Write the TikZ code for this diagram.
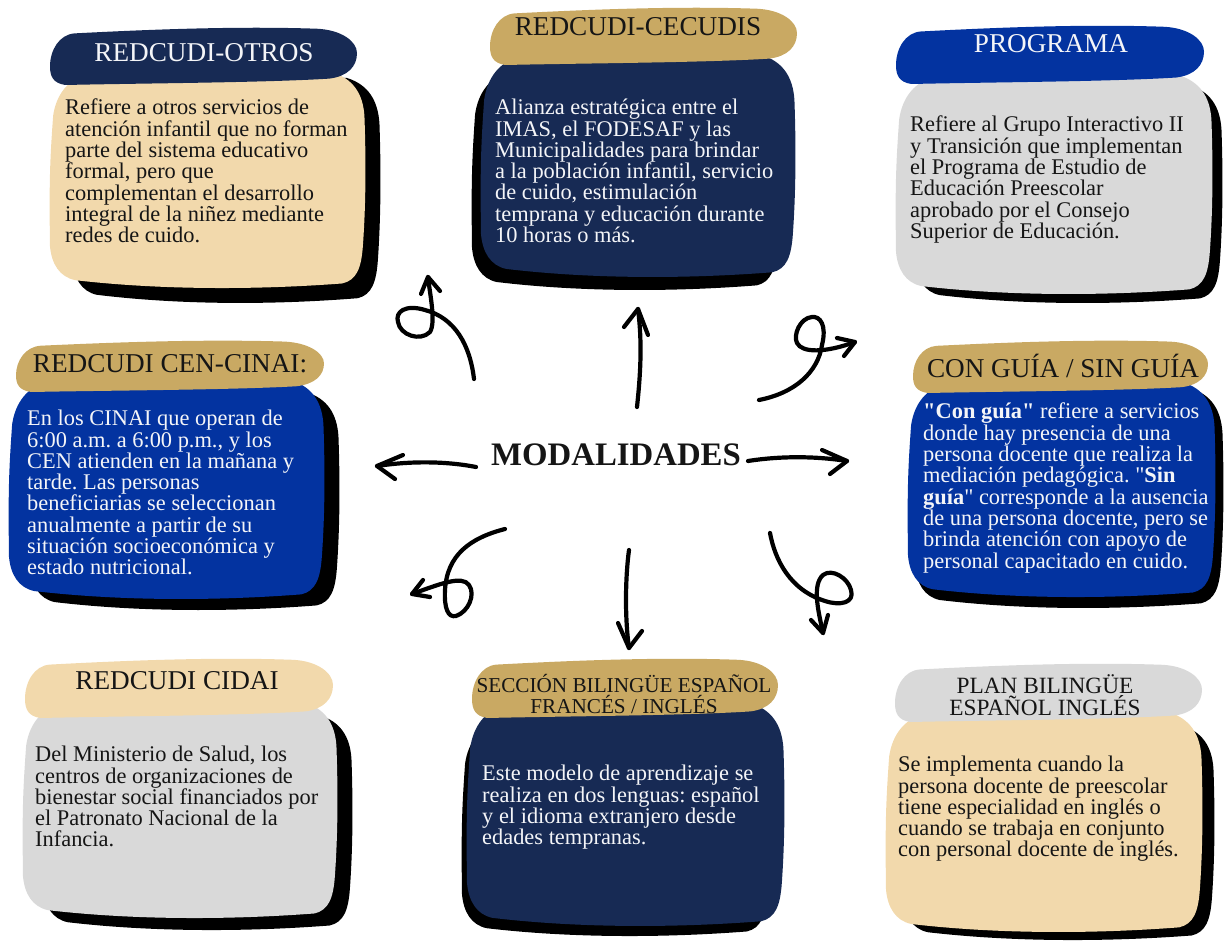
\documentclass[tikz,border=0pt]{standalone}
\usepackage{fontspec}
\setmainfont{Liberation Serif}[Ligatures=TeXOff]
\definecolor{navyc}{HTML}{172A54}
\definecolor{tanc}{HTML}{C9A963}
\definecolor{beigec}{HTML}{F2D9AC}
\definecolor{grayc}{HTML}{D9D9D9}
\definecolor{bluec}{HTML}{0333A0}
\definecolor{inkc}{HTML}{151515}
\definecolor{paperc}{HTML}{F4F5F8}
\tikzset{
  bodytxt/.style={anchor=north west,inner sep=0pt,align=left,font=\fontsize{22.4}{21.3}\selectfont\frenchspacing},
  headtxt/.style={anchor=center,inner sep=0pt,align=center,font=\fontsize{27.2}{24}\selectfont},
  smallhead/.style={anchor=center,inner sep=0pt,align=center,font=\fontsize{21.2}{21}\selectfont},
  planhead/.style={anchor=center,inner sep=0pt,align=center,font=\fontsize{23.3}{22}\selectfont},
  curve/.style={line width=4.2pt,line cap=round,line join=round,black},
}
\newcommand\pillshape[5]{%
  \pgfmathsetmacro\pw{#4-#2}\pgfmathsetmacro\ph{#5-#3}%
  \begin{scope}[shift={(#2,#3)},x=\pw pt,y=-\ph pt]
    \fill[#1] (.08,.11) .. controls (.3,.05) and (.6,-.02) .. (.87,.03)
      .. controls (.95,.05) and (1,.25) .. (1,.45)
      .. controls (1,.68) and (.97,.85) .. (.91,.89)
      .. controls (.7,.96) and (.3,.97) .. (.05,1)
      .. controls (.01,.97) and (0,.85) .. (0,.68)
      .. controls (0,.4) and (.03,.13) .. (.08,.11) -- cycle;
  \end{scope}}
\newcommand\blobshape[5]{%
  \pgfmathsetmacro\pw{#4-#2}\pgfmathsetmacro\ph{#5-#3}%
  \begin{scope}[shift={(#2,#3)},x=\pw pt,y=-\ph pt]
    \fill[#1] (.12,.01) .. controls (.35,0) and (.65,0) .. (.89,.0)
      .. controls (.96,.03) and (.99,.1) .. (.995,.2)
      .. controls (1,.4) and (1,.6) .. (.99,.8)
      .. controls (.985,.9) and (.97,.955) .. (.925,.97)
      .. controls (.65,1.0) and (.35,1.0) .. (.08,.955)
      .. controls (.03,.94) and (.005,.88) .. (.0,.8)
      .. controls (-.003,.5) and (0,.4) .. (.01,.2)
      .. controls (.02,.1) and (.06,.03) .. (.12,.01) -- cycle;
  \end{scope}}
\begin{document}
\begin{tikzpicture}[x=1pt,y=-1pt]
\useasboundingbox (0,0) rectangle (1227,941);

% REDCUDI-OTROS
\blobshape{black}{72}{78}{381}{305}
\blobshape{beigec}{50}{72}{366}{290}
\pillshape{navyc}{50}{27}{357}{85}
\node[headtxt,text=paperc] (hotros) at (204,53) {REDCUDI-OTROS};
\node[bodytxt,text=inkc] (botros) at (65,99) {\rule{0pt}{14pt}Refiere a otros servicios de\\atención infantil que no forman\\parte del sistema educativo\\formal, pero que\\complementan el desarrollo\\integral de la niñez mediante\\redes de cuido.};

% REDCUDI-CECUDIS
\blobshape{black}{472}{70}{780}{292}
\blobshape{navyc}{481}{55}{796}{279}
\pillshape{tanc}{490}{7}{797}{65}
\node[headtxt,text=inkc] (hcecudis) at (638,27) {REDCUDI-CECUDIS};
\node[bodytxt,text=paperc] (bcecudis) at (495,99) {\rule{0pt}{14pt}Alianza estratégica entre el\\IMAS, el FODESAF y las\\Municipalidades para brindar\\a la población infantil, servicio\\de cuido, estimulación\\temprana y educación durante\\10 horas o más.};

% PROGRAMA
\blobshape{black}{915}{85}{1223}{305}
\blobshape{grayc}{896}{75}{1213}{296}
\pillshape{bluec}{896}{25}{1204}{84}
\node[headtxt,text=paperc] (hprograma) at (1051,44) {PROGRAMA};
\node[bodytxt,text=inkc] (bprograma) at (910,116) {\rule{0pt}{14pt}Refiere al Grupo Interactivo II\\y Transición que implementan\\el Programa de Estudio de\\Educación Preescolar\\aprobado por el Consejo\\Superior de Educación.};

% CEN-CINAI
\blobshape{black}{30}{392}{340}{612}
\blobshape{bluec}{9}{380}{325}{601}
\pillshape{tanc}{16}{340}{324}{392}
\node[headtxt,text=inkc] (hcinai) at (170,364) {REDCUDI CEN-CINAI:};
\node[bodytxt,text=paperc] (bcinai) at (27,410) {\rule{0pt}{14pt}En los CINAI que operan de\\6:00 a.m. a 6:00 p.m., y los\\CEN atienden en la mañana y\\tarde. Las personas\\beneficiarias se seleccionan\\anualmente a partir de su\\situación socioeconómica y\\estado nutricional.};

% CON GUIA
\blobshape{black}{915}{388}{1224}{610}
\blobshape{bluec}{908}{382}{1216}{599}
\pillshape{tanc}{913}{340}{1208}{393}
\node[headtxt,text=inkc] (hguia) at (1063,366) {CON GUÍA / SIN GUÍA};
\node[bodytxt,text=paperc] (bguia) at (923,403) {\rule{0pt}{14pt}\textbf{"Con guía"} refiere a servicios\\donde hay presencia de una\\persona docente que realiza la\\mediación pedagógica. "\textbf{Sin}\\\textbf{guía}" corresponde a la ausencia\\de una persona docente, pero se\\brinda atención con apoyo de\\personal capacitado en cuido.};

% CIDAI
\blobshape{black}{43}{715}{353}{932}
\blobshape{grayc}{23}{702}{338}{920}
\pillshape{beigec}{25}{658}{333}{718}
\node[headtxt,text=inkc] (hcidai) at (177,681) {REDCUDI CIDAI};
\node[bodytxt,text=inkc] (bcidai) at (35,746) {\rule{0pt}{14pt}Del Ministerio de Salud, los\\centros de organizaciones de\\bienestar social financiados por\\el Patronato Nacional de la\\Infancia.};

% SECCION
\blobshape{black}{462}{720}{770}{938}
\blobshape{navyc}{467}{703}{785}{928}
\pillshape{tanc}{472}{658}{778}{718}
\node[smallhead,text=inkc] (hseccion) at (624,694) {SECCIÓN BILINGÜE ESPAÑOL\\FRANCÉS / INGLÉS};
\node[bodytxt,text=paperc] (bseccion) at (482,765) {\rule{0pt}{14pt}Este modelo de aprendizaje se\\realiza en dos lenguas: español\\y el idioma extranjero desde\\edades tempranas.};

% PLAN
\blobshape{black}{903}{725}{1215}{942}
\blobshape{beigec}{886}{712}{1203}{934}
\pillshape{grayc}{895}{663}{1202}{722}
\node[planhead,text=inkc] (hplan) at (1045,695) {PLAN BILINGÜE\\ESPAÑOL INGLÉS};
\node[bodytxt,text=inkc] (bplan) at (898,756) {\rule{0pt}{14pt}Se implementa cuando la\\persona docente de preescolar\\tiene especialidad en inglés o\\cuando se trabaja en conjunto\\con personal docente de inglés.};

% centre
\node[inner sep=0pt,text=inkc,font=\fontsize{32.8}{32}\selectfont\bfseries] (mod) at (616,455) {MODALIDADES};

% free ends of connectors
\coordinate (s1) at (474,379); \coordinate (e1) at (428,277);
\coordinate (s2) at (637,407); \coordinate (e2) at (638,309);
\coordinate (s3) at (759,400); \coordinate (e3) at (855,342);
\coordinate (s4) at (476,467); \coordinate (e4) at (377,466);
\coordinate (s5) at (748,461); \coordinate (e5) at (847,461);
\coordinate (s6) at (505,529); \coordinate (e6) at (412,594);
\coordinate (s7) at (629,550); \coordinate (e7) at (629,648);
\coordinate (s8) at (770,533); \coordinate (e8) at (823,633);

\draw[curve] (s1) .. controls (470,345) and (455,318) .. (425,310) .. controls (405,304) and (395,312) .. (398,322) .. controls (400,335) and (420,342) .. (430,332) .. controls (436,322) and (430,295) .. (e1);
\draw[curve] (421,294) -- (e1) -- (440,291);
\draw[curve] (s2) .. controls (641,370) and (642,340) .. (e2);
\draw[curve] (624,327) -- (e2) -- (648,335);
\draw[curve] (s3) .. controls (795,393) and (818,372) .. (822,345) .. controls (827,325) and (820,316) .. (812,317) .. controls (800,318) and (793,335) .. (797,343) .. controls (802,353) and (825,353) .. (e3);
\draw[curve] (837,338) -- (e3) -- (844,356);
\draw[curve] (s4) .. controls (445,461) and (410,461) .. (e4);
\draw[curve] (403,455) -- (e4) -- (395,479);
\draw[curve] (s5) .. controls (780,456) and (815,456) .. (e5);
\draw[curve] (822,450) -- (e5) -- (830,474);
\draw[curve] (s6) .. controls (470,538) and (447,555) .. (445,590) .. controls (444,608) and (448,618) .. (456,616) .. controls (468,612) and (476,595) .. (469,585) .. controls (462,575) and (440,584) .. (e6);
\draw[curve] (423,580) -- (e6) -- (430,597);
\draw[curve] (s7) .. controls (625,580) and (625,620) .. (e7);
\draw[curve] (618,623) -- (e7) -- (642,631);
\draw[curve] (s8) .. controls (775,560) and (790,590) .. (825,601) .. controls (840,606) and (855,603) .. (851,590) .. controls (848,578) and (832,568) .. (823,575) .. controls (812,585) and (818,610) .. (e8);
\draw[curve] (811,620) -- (e8) -- (828,615);
\end{tikzpicture}
\end{document}
